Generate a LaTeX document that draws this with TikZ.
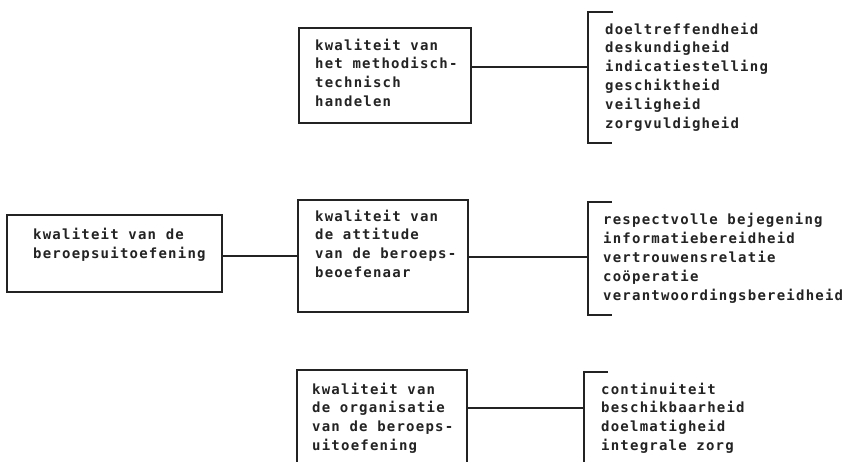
\documentclass[tikz,border=0pt]{standalone}
\usepackage{fontspec}
\newfontfamily\typefont[LetterSpace=8.7]{DejaVu Sans Mono}
\definecolor{ink}{RGB}{35,35,35}
\begin{document}
\begin{tikzpicture}[x=1pt,y=-1pt,
  box/.style={draw=ink, line width=1.4pt, rectangle, inner sep=0pt},
  txt/.style={font=\typefont\bfseries\fontsize{14}{18.8}\selectfont, text=ink,
    align=left, anchor=base west, inner sep=0pt},
  link/.style={draw=ink, line width=1.4pt}]
\useasboundingbox (0,0) rectangle (845,461);
\clip (0,0) rectangle (845,461);

% boxes
\node[box, minimum width=215pt, minimum height=77pt]  (A) at (114.5,253.5) {};
\node[box, minimum width=172pt, minimum height=95pt]  (C) at (385,75.5) {};
\node[box, minimum width=170pt, minimum height=112pt] (B) at (383,256) {};
\node[box, minimum width=170pt, minimum height=110pt] (D) at (382,425) {};

% box texts (placed by the baseline of their last line)
\node[txt] (tA) at (33,258.5) {kwaliteit van de\\beroepsuitoefening};
\node[txt] (tC) at (315,106.4) {kwaliteit van\\het methodisch-\\technisch\\handelen};
\node[txt] (tB) at (315,277.5) {kwaliteit van\\de attitude\\van de beroeps-\\beoefenaar};
\node[txt] (tD) at (312,450.5) {kwaliteit van\\de organisatie\\van de beroeps-\\uitoefening};

% brackets
\coordinate (k1) at (588,67);
\coordinate (k2) at (588,257);
\coordinate (k3) at (584,408);
\draw[link] (613,12) -- (588,12) -- (588,143) -- (612,143);
\draw[link] (612,202) -- (588,202) -- (588,315) -- (612,315);
\draw[link] (608,372) -- (584,372) -- (584,480);

% connectors
\draw[link] (B.west -| A.east) -- (B.west);
\draw[link] (C.east |- k1) -- (k1);
\draw[link] (B.east |- k2) -- (k2);
\draw[link] (D.east |- k3) -- (k3);

% criteria lists
\node[txt] (L1) at (605,128) {doeltreffendheid\\deskundigheid\\indicatiestelling\\geschiktheid\\veiligheid\\zorgvuldigheid};
\node[txt] (L2) at (603,300) {respectvolle bejegening\\informatiebereidheid\\vertrouwensrelatie\\coöperatie\\verantwoordingsbereidheid};
\node[txt] (L3) at (601,450.5) {continuiteit\\beschikbaarheid\\doelmatigheid\\integrale zorg};
\end{tikzpicture}
\end{document}
